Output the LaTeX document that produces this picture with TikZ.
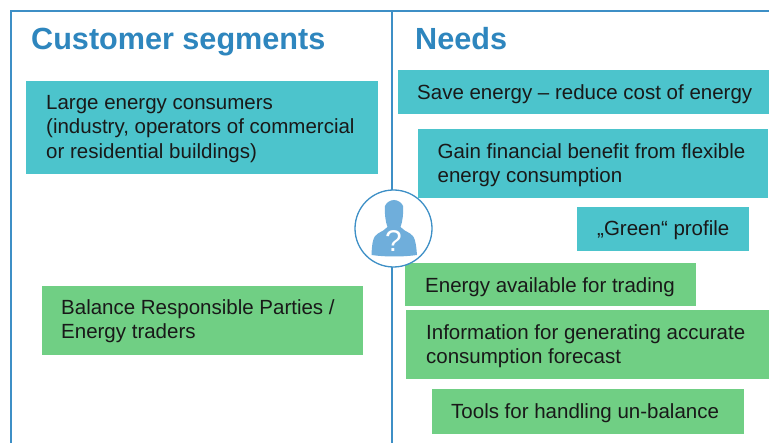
\documentclass[tikz,border=0pt]{standalone}
\usepackage{fontspec}
\setmainfont{Liberation Sans}
\definecolor{frameblue}{HTML}{3D8FC6}
\definecolor{headblue}{HTML}{2E86BE}
\definecolor{teal}{HTML}{4CC4CC}
\definecolor{lgreen}{HTML}{70CF84}
\definecolor{figblue}{HTML}{6FAEDB}
\tikzset{x=1pt,y=-1pt,
 head/.style={anchor=base west,font=\bfseries\fontsize{30.6}{34}\selectfont,text=headblue,inner sep=0pt},
 lab/.style={anchor=west,align=left,inner sep=0pt,font=\fontsize{20.5}{24.5}\selectfont,text=black!90}}
\begin{document}
\begin{tikzpicture}
\useasboundingbox (0,0) rectangle (769,443);
\fill[white] (0,0) rectangle (769,443);
\draw[frameblue,line width=1.3pt] (11,443) -- (11,11) -- (769,11);
\draw[frameblue,line width=1.3pt] (392,11) -- (392,443);
\node[head] (h1) at (31,50) {Customer segments};
\node[head] (h2) at (415,50) {Needs};
\fill[teal] (26,81) rectangle (378,174);
\node[lab] (a) at (46,129) {\begin{tabular}{@{}l@{}}Large energy consumers\\(industry, operators of commercial\\or residential buildings)\end{tabular}};
\fill[lgreen] (42,286) rectangle (363,355);
\node[lab] (b) at (61,321.5) {\begin{tabular}{@{}l@{}}Balance Responsible Parties /\\Energy traders\end{tabular}};
\fill[teal] (398,70) rectangle (769,114);
\node[lab] (c) at (417,94) {Save energy – reduce cost of energy};
\fill[teal] (418,129) rectangle (768,198);
\node[lab] (d) at (437.5,165.5) {\begin{tabular}{@{}l@{}}Gain financial benefit from flexible\\energy consumption\end{tabular}};
\fill[teal] (577,207) rectangle (749,251);
\node[lab] (e) at (597,230) {„Green“ profile};
\fill[lgreen] (405,263) rectangle (696,306);
\node[lab] (f) at (425,287) {Energy available for trading};
\fill[lgreen] (406,310) rectangle (769,379);
\node[lab] (g) at (426,346.5) {\begin{tabular}{@{}l@{}}Information for generating accurate\\consumption forecast\end{tabular}};
\fill[lgreen] (432,389) rectangle (744,434);
\node[lab] (i) at (451,413) {Tools for handling un-balance};
\draw[fill=white,draw=frameblue,line width=1.3pt] (393.5,228.5) circle (38.5);
\fill[figblue] (371.5,255) .. controls (372,243) and (373,236) .. (378,233.5) .. controls (382,231) and (385,230) .. (387.5,227) .. controls (385.5,222) and (384.5,214) .. (385,206) .. controls (386,203) and (390,200) .. (394,200) .. controls (398,200) and (402,203) .. (403,206) .. controls (403.5,214) and (402.5,222) .. (400.5,227) .. controls (403,230) and (406,231) .. (410,233.5) .. controls (415,236) and (416,243) .. (417,255) .. controls (403,257) and (385,257) .. (371.5,255) -- cycle;
\node[font=\fontsize{30}{30}\selectfont,text=white,inner sep=0pt] (q) at (393.5,241.5) {?};
\end{tikzpicture}
\end{document}
